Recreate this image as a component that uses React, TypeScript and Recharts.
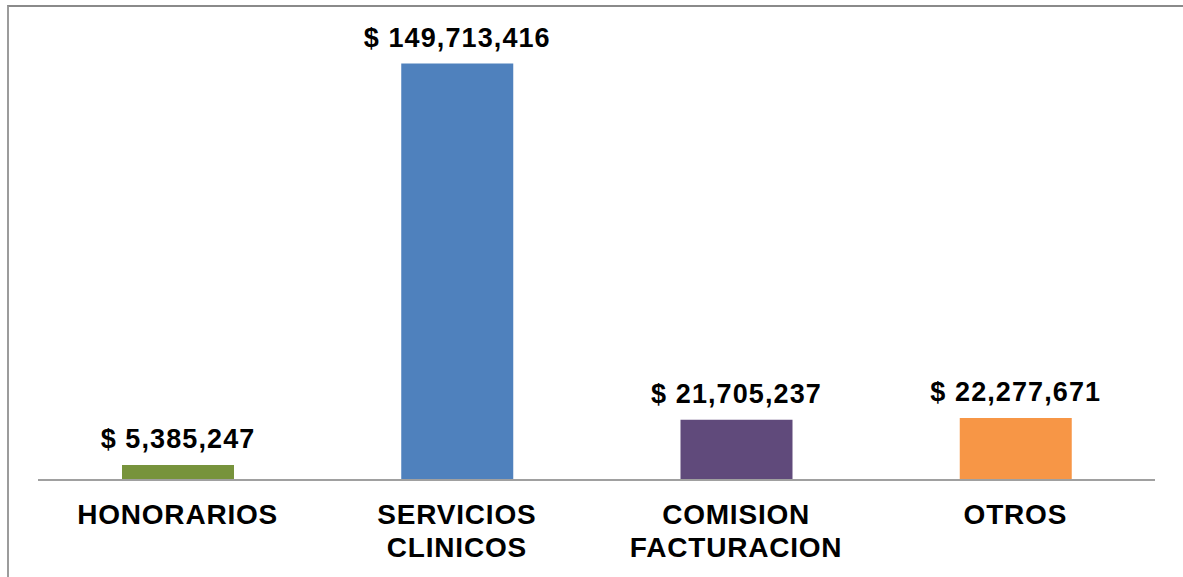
import { BarChart, Bar, XAxis, YAxis, Cell, LabelList } from 'recharts';

const categories = ['HONORARIOS', 'SERVICIOS\nCLINICOS', 'COMISION\nFACTURACION', 'OTROS'];
const amounts = [5385247, 149713416, 21705237, 22277671];
const COLORS = ['#77933C', '#4F81BD', '#604A7B', '#F79646'];

const FONT = '"Liberation Sans", Arial, sans-serif';

const data = categories.map((name, i) => ({ name, value: amounts[i] }));

const formatMoney = (v: number) => `$ ${v.toLocaleString('en-US')}`;

function CategoryTick({ x, y, payload }: any) {
  const lines = String(payload.value).split('\n');
  return (
    <text
      x={x}
      y={y}
      textAnchor="middle"
      fontFamily={FONT}
      fontWeight="bold"
      fontSize={28}
      letterSpacing={0.8}
      fill="#000"
    >
      {lines.map((line, i) => (
        <tspan key={line} x={x} dy={i === 0 ? '0.71em' : 33}>
          {line}
        </tspan>
      ))}
    </text>
  );
}

export default function App() {
  return (
    <div style={{ position: 'absolute', left: 0, top: 0, width: 1183, height: 577, background: '#fff' }}>
      {/* frame edges */}
      <div
        style={{
          position: 'absolute',
          left: 7,
          top: 5,
          width: 1176,
          height: 572,
          borderTop: '2px solid #8a8a8a',
          borderLeft: '2px solid #9c9c9c',
          boxSizing: 'border-box',
        }}
      />
      <div style={{ position: 'absolute', left: 0, top: 0 }}>
        <BarChart
          width={1183}
          height={577}
          data={data}
          margin={{ top: 35, right: 28, left: 38, bottom: 0 }}
        >
          <XAxis
            dataKey="name"
            height={97}
            interval={0}
            tickLine={false}
            tickSize={0}
            tickMargin={24}
            axisLine={{ stroke: '#a0a0a0', strokeWidth: 2 }}
            tick={<CategoryTick />}
          />
          <YAxis hide domain={[0, 160000000]} />
          <Bar dataKey="value" barSize={112} isAnimationActive={false}>
            {data.map((_, i) => (
              <Cell key={`cell-${i}`} fill={COLORS[i]} />
            ))}
            <LabelList
              dataKey="value"
              position="top"
              offset={17}
              formatter={(v: any) => formatMoney(Number(v))}
              fill="#000"
              fontFamily={FONT}
              fontWeight="bold"
              fontSize={27}
              letterSpacing={1.1}
            />
          </Bar>
        </BarChart>
      </div>
    </div>
  );
}
